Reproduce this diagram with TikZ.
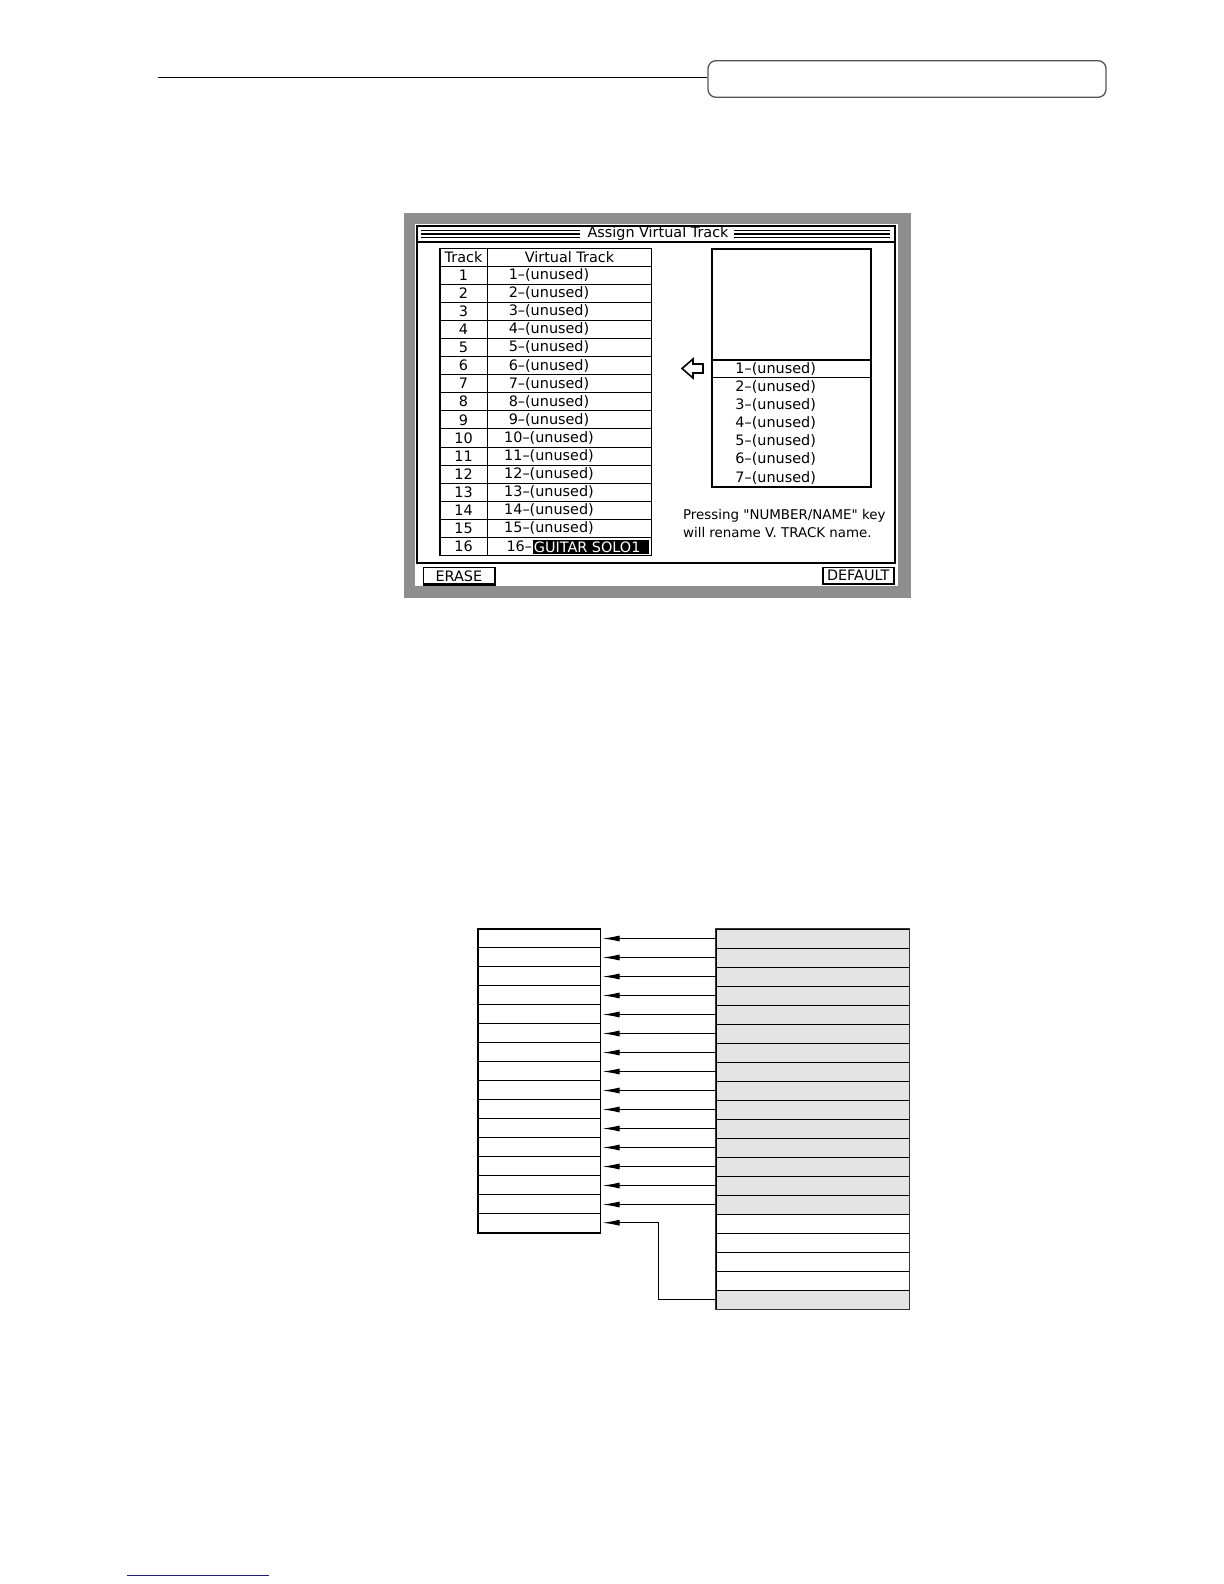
\documentclass[tikz,border=0pt]{standalone}
\usepackage{fontspec}
\usepackage{xcolor}
\usepackage{tikz}
\usetikzlibrary{arrows.meta, positioning}
\newfontfamily\lcdfont{DejaVu Sans}
\definecolor{framegray}{HTML}{8E8E8E}
\definecolor{rowgray}{HTML}{E4E4E4}
\definecolor{rulegray}{HTML}{555555}
\definecolor{footblue}{HTML}{1C1C80}

\begin{document}
\begin{tikzpicture}[x=0.5pt, y=-0.5pt,
  lcd/.style={font=\lcdfont\fontsize{7.2}{8}\selectfont, inner sep=0pt},
  lcdsmall/.style={font=\lcdfont\fontsize{6.7}{8}\selectfont, inner sep=0pt},
  lrow/.style={draw, line width=0.5pt, minimum width=61pt, minimum height=9.47pt, inner sep=0pt},
  rrow/.style={draw, line width=0.5pt, minimum width=96.5pt, minimum height=9.5pt, inner sep=0pt},
  arr/.style={-{Latex[length=8.5pt,width=3pt]}, line width=0.5pt, shorten >=1pt},
  button/.style={draw, line width=0.6pt, lcd, fill=white}]

  \useasboundingbox (0,0) rectangle (1224,1584);

  % page header and footer
  \node[draw=rulegray, line width=0.65pt, rounded corners=4pt, minimum width=199pt,
    minimum height=18.3pt, inner sep=0pt] (tab) at (907,79) {};
  \coordinate (hl) at (158,77.3);
  \draw[line width=0.6pt] (hl) -- (hl -| tab.west);
  \coordinate (fl) at (127,1575.3);
  \draw[footblue, line width=0.6pt] (fl) -- ++(142,0);

  % screen
  \fill[framegray] (404,212.7) rectangle (910.7,598);
  \fill[white] (415,224) rectangle (898,586);
  \draw[line width=0.9pt] (417,226) rectangle (895,563);
  \draw[line width=0.9pt] (417,241.7) -- (895,241.7);
  \foreach \y in {230.2,233.9,237.6} {
    \draw[line width=0.7pt] (421,\y) -- (580,\y);
    \draw[line width=0.7pt] (734,\y) -- (890,\y);
  }
  \node[lcd] (title) at (658,234) {Assign Virtual Track};

  % track table
  \draw[line width=0.7pt] (440,248.3) rectangle (651.7,555.6);
  \draw[line width=0.6pt] (487.3,248.3) -- (487.3,555.6);
  \foreach \k in {0,...,15}
    \draw[line width=0.5pt] (440,{266+\k*18.1}) -- (651.7,{266+\k*18.1});
  \node[lcd] (hdtrk) at (463.5,257.4) {Track};
  \node[lcd] (hdvt) at (569.5,257.4) {Virtual Track};
  \foreach \k in {1,...,15} {
    \node[lcd] (n\k) at (463.5,{266+(\k-0.5)*18.1}) {\k};
    \node[lcd] (v\k) at (549,{266+(\k-0.5)*18.1}) {\k–(unused)};
  }
  \node[lcd] (n16) at (463.5,546.6) {16};
  \node[lcd, anchor=east] (v16) at (532.5,546.6) {16–};
  \fill[black] (532.7,540) rectangle (649.3,554);
  \node[lcd, text=white, anchor=west] (gs) at (533.5,547) {GUITAR SOLO1};

  % virtual track list
  \draw[line width=1pt] (711.7,249.3) rectangle (870.7,486.7);
  \draw[line width=0.6pt] (711.7,360) -- (870.7,360);
  \draw[line width=0.6pt] (711.7,377.3) -- (870.7,377.3);
  \foreach \k in {1,...,7}
    \node[lcd, anchor=west] (li\k) at (735,{368.7+(\k-1)*18.15}) {\k–(unused)};
  \draw[line width=0.8pt, fill=white] (682,368.5) -- (693,359) -- (693,364) -- (703,364)
    -- (703,373) -- (693,373) -- (693,378) -- cycle;
  \node[lcdsmall, anchor=west] (help1) at (682.7,516) {Pressing "NUMBER/NAME" key};
  \node[lcdsmall, anchor=west] (help2) at (682.7,532.7) {will rename V. TRACK name.};

  % soft keys
  \node[button, minimum width=35.5pt, minimum height=8.2pt] (erase) at (458.8,575.8) {ERASE};
  \node[button, minimum width=35.2pt, minimum height=7.8pt] (default) at (858.2,575.5) {DEFAULT};
  \draw[line width=1pt] (erase.north east) -- (erase.south east) -- (erase.south west);
  \draw[line width=1pt] (default.north east) -- (default.south east) -- (default.south west);

  % assignment diagram
  \foreach \i in {1,...,16}
    \node[lrow] (L\i) at (539,{929+(\i-0.5)*18.95}) {};
  \draw[line width=0.85pt] (L1.north west) rectangle (L16.south east);
  \foreach \i in {1,...,15,20}
    \node[rrow, fill=rowgray] (R\i) at (812.5,{929+(\i-0.5)*19}) {};
  \foreach \i in {16,...,19}
    \node[rrow] (R\i) at (812.5,{929+(\i-0.5)*19}) {};
  \draw[line width=0.6pt, draw=black!80] (R1.north west) rectangle (R20.south east);

  \foreach \i in {1,...,15}
    \draw[arr] (R\i.west) -- (R\i.west -| L\i.east);
  \coordinate (bend) at (658.7,1260);
  \draw[arr] (R20.west) -| (bend |- L16.east) -- (L16.east);
\end{tikzpicture}
\end{document}
